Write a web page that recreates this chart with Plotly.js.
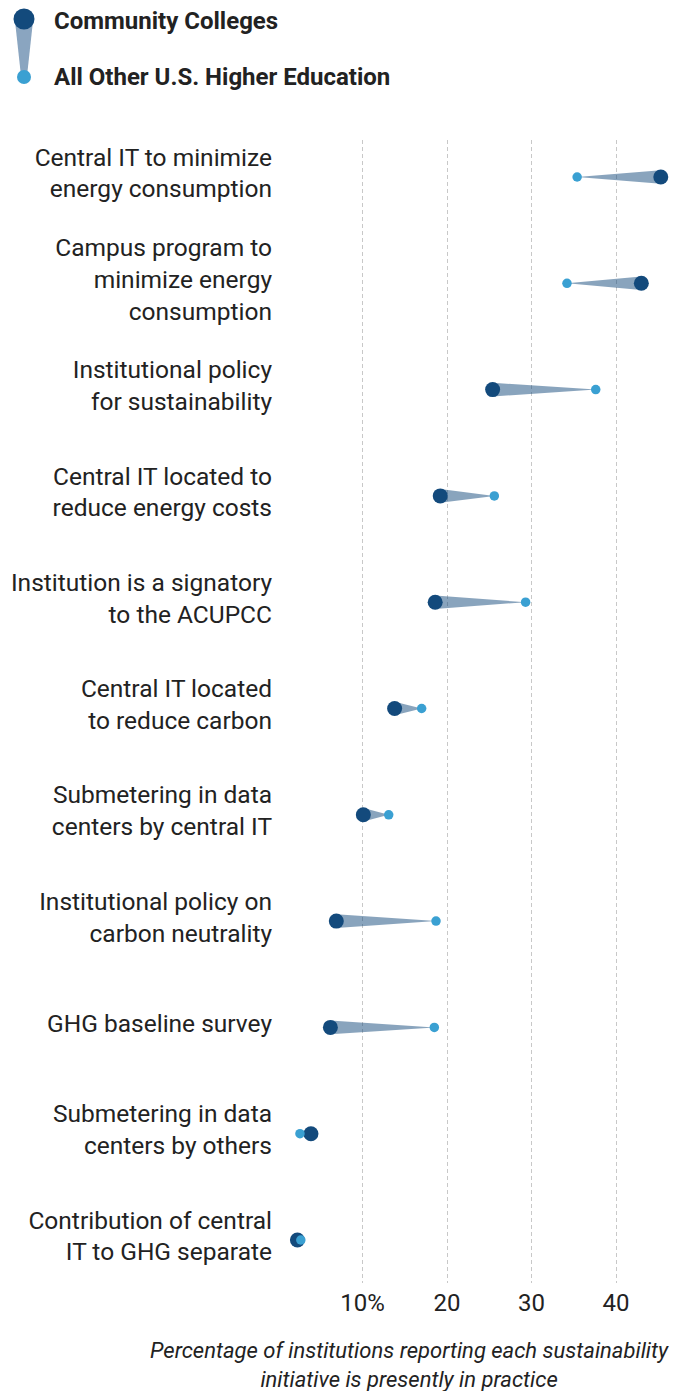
<!DOCTYPE html>
<html>
<head>
<meta charset="utf-8">
<script src="https://cdn.plot.ly/plotly-3.0.1.min.js"></script>
<style>html,body{margin:0;padding:0;background:#fff;}#chart{width:676px;height:1391px;}</style>
</head>
<body>
<div id="chart"></div>
<script>
const categories = [
  "Central IT to minimize<br>energy consumption",
  "Campus program to<br>minimize energy<br>consumption",
  "Institutional policy<br>for sustainability",
  "Central IT located to<br>reduce energy costs",
  "Institution is a signatory<br>to the ACUPCC",
  "Central IT located<br>to reduce carbon",
  "Submetering in data<br>centers by central IT",
  "Institutional policy on<br>carbon neutrality",
  "GHG baseline survey",
  "Submetering in data<br>centers by others",
  "Contribution of central<br>IT to GHG separate"
];
const communityColleges = [45.3, 43.0, 25.4, 19.2, 18.6, 13.8, 10.1, 6.9, 6.2, 3.9, 2.3];
const allOtherHigherEd  = [35.4, 34.2, 37.6, 25.6, 29.3, 17.0, 13.1, 18.7, 18.5, 2.6, 2.7];
const xTickVals = [10, 20, 30, 40];
const xTickText = ["10%", "20", "30", "40"];
const seriesNames = ["Community Colleges", "All Other U.S. Higher Education"];
const axisTitle = "Percentage of institutions reporting each sustainability<br>initiative is presently in practice";

const NAVY = "#134a7c", LIGHT = "#3aa0d2", WEDGE = "rgba(19,74,124,0.5)", TXT = "#222222";
const FONT = "Roboto, 'Noto Sans', sans-serif";
const W = 676, H = 1391, ML = 278, MR = 6, MT = 140, MB = 108;
const PW = W - ML - MR, PH = H - MT - MB;
const HALF = 0.064; // wedge half-thickness in row units

const rows = categories.map((_, i) => i);
const traces = [];
rows.forEach(i => {
  traces.push({
    type: "scatter", mode: "lines", fill: "toself",
    x: [communityColleges[i], allOtherHigherEd[i], communityColleges[i], communityColleges[i]],
    y: [i - HALF, i, i + HALF, i - HALF],
    line: {width: 0, color: WEDGE}, fillcolor: WEDGE,
    hoverinfo: "skip", showlegend: false
  });
});
traces.push({
  type: "scatter", mode: "markers", name: seriesNames[0],
  x: communityColleges, y: rows,
  marker: {size: 15, color: NAVY}, showlegend: false
});
traces.push({
  type: "scatter", mode: "markers", name: seriesNames[1],
  x: allOtherHigherEd, y: rows,
  marker: {size: 9.5, color: LIGHT}, showlegend: false
});

const px = x => (x - ML) / PW;
const py = y => (H - MB - y) / PH;

const shapes = [
  {type: "path", xref: "paper", yref: "paper",
   path: `M ${px(15)} ${py(21)} L ${px(33)} ${py(21)} L ${px(27)} ${py(76)} L ${px(21)} ${py(76)} Z`,
   fillcolor: "#8aa5c0", line: {width: 0}},
  {type: "circle", xref: "paper", yref: "paper",
   x0: px(13.5), x1: px(34.5), y0: py(8.5), y1: py(29.5),
   fillcolor: NAVY, line: {width: 0}},
  {type: "circle", xref: "paper", yref: "paper",
   x0: px(17), x1: px(31), y0: py(70), y1: py(84),
   fillcolor: LIGHT, line: {width: 0}}
];

const annotations = [
  {xref: "paper", yref: "paper", x: px(52), y: py(21), xanchor: "left", yanchor: "middle",
   text: "<b>" + seriesNames[0] + "</b>", showarrow: false,
   font: {family: FONT, size: 24, color: TXT}},
  {xref: "paper", yref: "paper", x: px(52), y: py(77), xanchor: "left", yanchor: "middle",
   text: "<b>" + seriesNames[1] + "</b>", showarrow: false,
   font: {family: FONT, size: 24, color: TXT}},
  {xref: "paper", yref: "paper", x: px(409), y: py(1365), xanchor: "center", yanchor: "middle",
   text: "<i>" + axisTitle + "</i>", showarrow: false, align: "center",
   font: {family: FONT, size: 22, color: TXT}}
];

const layout = {
  width: W, height: H,
  margin: {l: ML, r: MR, t: MT, b: MB, pad: 0},
  paper_bgcolor: "#ffffff", plot_bgcolor: "#ffffff",
  showlegend: false,
  font: {family: FONT, color: TXT},
  xaxis: {
    range: [0, PW / 8.45], tickvals: xTickVals, ticktext: xTickText,
    showgrid: true, gridcolor: "#c8c8c8", griddash: "4px,3px", gridwidth: 1,
    zeroline: false, showline: false, ticks: "", ticklabelstandoff: 3,
    tickfont: {family: FONT, size: 24, color: TXT}, fixedrange: true
  },
  yaxis: {
    range: [(H - MB - 177) / 106.3, (MT - 177) / 106.3],
    tickvals: rows, ticktext: categories,
    showgrid: false, zeroline: false, showline: false, ticks: "", ticklabelstandoff: 5,
    ticklabelshift: 4,
    tickfont: {family: FONT, size: 24.5, color: TXT}, fixedrange: true
  },
  shapes: shapes,
  annotations: annotations
};

Plotly.newPlot("chart", traces, layout, {displayModeBar: false, staticPlot: true});
</script>
</body>
</html>
